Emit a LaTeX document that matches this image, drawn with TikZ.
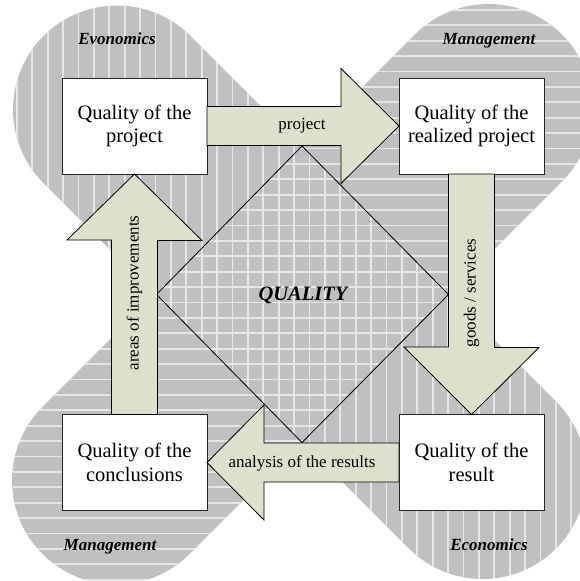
\documentclass[tikz,border=0pt]{standalone}
\usepackage{fontspec}
\setmainfont{Liberation Serif}
\usetikzlibrary{calc}
\definecolor{bandgray}{HTML}{C0C0C0}
\definecolor{stripecol}{HTML}{E6E6E6}
\definecolor{arrowfill}{HTML}{DDE1CC}
\begin{document}
\begin{tikzpicture}[x=1pt,y=-1pt,
  box/.style={draw=black!85, line width=1pt, fill=white, minimum width=145pt, minimum height=96pt, inner sep=0pt, outer sep=0pt, align=center, font=\fontsize{20.5}{23.5}\selectfont},
  blockarrow/.style={draw=black, line width=0.8pt, fill=arrowfill, line join=miter},
  arrowlabel/.style={font=\fontsize{17}{20}\selectfont, inner sep=0pt},
  arealabel/.style={font=\fontsize{17}{20}\selectfont\bfseries\itshape, anchor=base, inner sep=0pt},
  stripeline/.style={draw=stripecol, line width=1.8pt},
  bandone/.style={shift={(302,294.5)}, rotate=-45, rounded corners=104pt},
  bandtwo/.style={shift={(302,294.5)}, rotate=45, rounded corners=104pt}]
\useasboundingbox (0,0) rectangle (579,581);
% bands
\fill[bandgray, bandone] (-365.6,-104) rectangle (359.3,104);
\fill[bandgray, bandtwo] (-367,-104) rectangle (367.7,104);
\begin{scope}
  \clip[bandone] (-365.6,-104) rectangle (359.3,104);
  \foreach \i in {-15,...,25} {\draw[stripeline] (217+15.4*\i,-5) -- (217+15.4*\i,590);}
\end{scope}
\begin{scope}
  \clip[bandtwo] (-367,-104) rectangle (367.7,104);
  \foreach \i in {-15,...,25} {\draw[stripeline] (-5,210+15.4*\i) -- (590,210+15.4*\i);}
\end{scope}
% diamond
\draw[line width=0.8pt, line join=miter] (302,146) -- (448.5,294.5) -- (302,442.5) -- (156.5,294.5) -- cycle;
% boxes
\node[box] (qp) at (134.5,126) {Quality of the\\project};
\node[box] (qr) at (471.5,126) {Quality of the\\realized project};
\node[box] (qres) at (471.5,462.5) {Quality of the\\result};
\node[box] (qc) at (134.5,462.5) {Quality of the\\conclusions};
% block arrows
\draw[blockarrow] ($(qp.east)+(0,-19.5)$) -- ++(134,0) -- ++(0,-38) -- (qr.west) -- ++(-58,57.5) -- ++(0,-38) -- ($(qp.east)+(0,19.5)$) -- cycle;
\draw[blockarrow] ($(qr.south)+(-23,0)$) -- ++(0,173) -- ++(-44.5,0) -- (qres.north) -- ++(67.5,-67) -- ++(-44.5,0) -- ($(qr.south)+(23,0)$) -- cycle;
\draw[blockarrow] ($(qres.west)+(0,-19.5)$) -- ++(-135,0) -- ++(0,-38) -- (qc.east) -- ++(57,57.5) -- ++(0,-38) -- ($(qres.west)+(0,19.5)$) -- cycle;
\draw[blockarrow] ($(qc.north)+(23,0)$) -- ++(0,-174) -- ++(44.5,0) -- (qp.south) -- ++(-67.5,66) -- ++(44.5,0) -- ($(qc.north)+(-23,0)$) -- cycle;
% arrow labels
\node[arrowlabel] (lproj) at (302,126) {project};
\node[arrowlabel, rotate=90] (lgoods) at (471.5,293) {goods / services};
\node[arrowlabel] (lanal) at (302,463) {analysis of the results};
\node[arrowlabel, rotate=90] (larea) at (134.5,293) {areas of improvements};
% area labels
\node[arealabel] (evo) at (117,44) {Evonomics};
\node[arealabel] (man1) at (489,44) {Management};
\node[arealabel] (man2) at (110,550) {Management};
\node[arealabel] (eco) at (489,550) {Economics};
\node[font=\fontsize{20.5}{24}\selectfont\bfseries\itshape, anchor=base, inner sep=0pt] (qual) at (303,300) {QUALITY};
\end{tikzpicture}
\end{document}
